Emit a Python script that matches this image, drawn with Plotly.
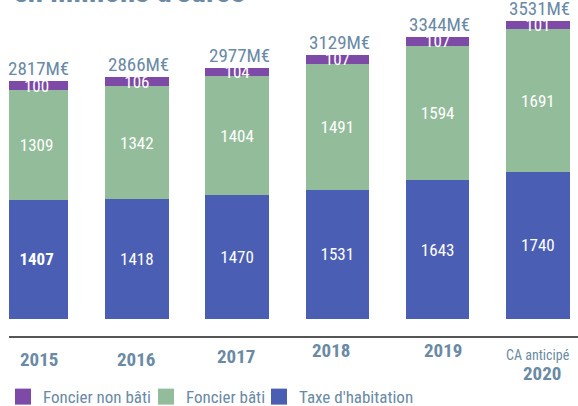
import plotly.graph_objects as go

years = ["2015", "2016", "2017", "2018", "2019", "2020"]
year_note = "CA anticipé"
taxe_habitation = [1407, 1418, 1470, 1531, 1643, 1740]
foncier_bati = [1309, 1342, 1404, 1491, 1594, 1691]
foncier_non_bati = [100, 106, 104, 107, 107, 101]
totals = [2817, 2866, 2977, 3129, 3344, 3531]

FONT = "Roboto Condensed, Liberation Sans Narrow, Roboto, sans-serif"
TXT = "#6a8aa5"
C_BLUE = "#4a5eb4"
C_GREEN = "#93bd9a"
C_PURPLE = "#7e4aa8"

x = list(range(len(years)))
series = [("Taxe d'habitation", taxe_habitation, C_BLUE),
          ("Foncier bâti", foncier_bati, C_GREEN),
          ("Foncier non bâti", foncier_non_bati, C_PURPLE)]
first_bold = ["bold"] + ["normal"] * (len(years) - 1)

fig = go.Figure()
for k, (name, vals, col) in enumerate(series):
    fig.add_trace(go.Bar(
        x=x, y=vals, name=name, marker=dict(color=col, line=dict(width=0)),
        text=[str(v) for v in vals], textposition="inside",
        insidetextanchor="middle", constraintext="none",
        textfont=dict(color="white", size=17, family=FONT,
                      weight=first_bold if k == 0 else "normal"),
        hoverinfo="skip", showlegend=False))

# legend entries with large square swatches, one legend box each
legend_ids = ["legend3", "legend2", "legend"]
for (name, vals, col), lid in zip(series, legend_ids):
    fig.add_trace(go.Scatter(
        x=[None], y=[None], mode="markers", name=name, legend=lid,
        marker=dict(symbol="square", size=18, color=col), hoverinfo="skip"))

# totals above bars
for i, t in enumerate(totals):
    fig.add_annotation(x=i, y=t, xref="x", yref="y", text=f"{t}M€",
                       showarrow=False, yanchor="bottom", yshift=-1, xshift=2,
                       font=dict(color=TXT, size=19, family=FONT))

# x labels
label_xshift = [2, -1, -1, -6, 5, 4]
label_yshift = [-23, -23, -20, -14, -14, -37]
for i, lab in enumerate(years):
    fig.add_annotation(x=i, y=0, xref="x", yref="paper", text=f"<b>{lab}</b>",
                       showarrow=False, yanchor="middle", xshift=label_xshift[i],
                       yshift=label_yshift[i],
                       font=dict(color=TXT, size=19, family=FONT))
fig.add_annotation(x=len(years) - 1, y=0, xref="x", yref="paper", text=year_note,
                   showarrow=False, yanchor="middle", xshift=0, yshift=-19,
                   font=dict(color=TXT, size=14, family=FONT))

# cropped title at top
fig.add_annotation(x=0, y=1, xref="paper", yref="paper", xanchor="left",
                   yanchor="bottom", xshift=2, yshift=-12,
                   text="<b>en millions d'euros</b>", showarrow=False,
                   font=dict(color=TXT, size=31, family=FONT))

leg_common = dict(orientation="h", xref="container", yref="container",
                  xanchor="left", y=0.022, yanchor="middle",
                  font=dict(size=17, color=TXT, family=FONT),
                  itemwidth=30, bgcolor="rgba(0,0,0,0)")

fig.update_layout(
    width=578, height=406, barmode="stack", bargap=0.365,
    margin=dict(l=9, r=0, t=0, b=70, autoexpand=False),
    paper_bgcolor="white", plot_bgcolor="white",
    font=dict(family=FONT, color=TXT),
    xaxis=dict(range=[-0.275, 5.40], showticklabels=False, showgrid=False,
               zeroline=False, showline=True, linecolor="#555555", linewidth=2,
               fixedrange=True),
    yaxis=dict(range=[-204, 3780], visible=False, fixedrange=True),
    legend=dict(x=3 / 578, **leg_common),
    legend2=dict(x=146 / 578, **leg_common),
    legend3=dict(x=259 / 578, **leg_common),
    showlegend=True,
)

fig.write_html("out.html", config={"displayModeBar": False},
               post_script="document.body.style.margin='0';document.body.style.overflow='hidden';")
